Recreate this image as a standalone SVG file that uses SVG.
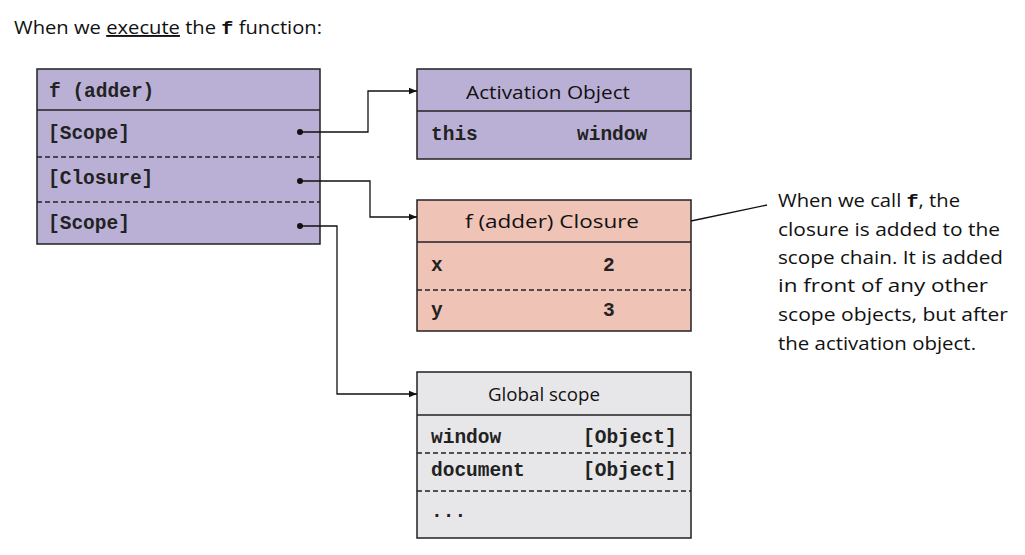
<svg xmlns="http://www.w3.org/2000/svg" width="1025" height="555" viewBox="0 0 1025 555">
<defs>
<marker id="arr" viewBox="0 0 10 10" refX="10" refY="5" markerWidth="12" markerHeight="8" markerUnits="userSpaceOnUse" orient="auto">
<path d="M0,1 L10,5 L0,9 z" fill="#111"/>
</marker>
<style>
.box{stroke:#222;stroke-width:1.5}
.purple{fill:#bab0d5}
.salmon{fill:#efc3b6}
.gray{fill:#e7e7e9}
.sep{stroke:#222;stroke-width:1.5;fill:none}
.dash{stroke:#222;stroke-width:1.3;stroke-dasharray:5,3;fill:none}
.mono{font-family:"Liberation Mono","Courier New",monospace;font-weight:bold;font-size:19.5px;fill:#222}
.hand{font-family:"Open Sans","DejaVu Sans",sans-serif;font-size:19px;fill:#111}
.conn{stroke:#111;stroke-width:1.3;fill:none}
</style>
</defs>
<rect width="1025" height="555" fill="#fff"/>

<text class="hand" x="14" y="34" textLength="308" lengthAdjust="spacingAndGlyphs">When we <tspan text-decoration="underline">execute</tspan> the <tspan font-family="Liberation Mono, monospace" font-weight="bold">f</tspan> function:</text>

<g id="node-f">
<rect class="box purple" x="37" y="69" width="283" height="175"/>
<line class="sep" x1="37" y1="110" x2="320" y2="110"/>
<line class="dash" x1="37" y1="157" x2="320" y2="157"/>
<line class="dash" x1="37" y1="202" x2="320" y2="202"/>
<text class="mono" x="49" y="97">f (adder)</text>
<text class="mono" x="48" y="139">[Scope]</text>
<text class="mono" x="48" y="184">[Closure]</text>
<text class="mono" x="48" y="229">[Scope]</text>
<circle cx="300" cy="132" r="3" fill="#111"/>
<circle cx="300" cy="181" r="3" fill="#111"/>
<circle cx="300" cy="226" r="3" fill="#111"/>
</g>

<g id="node-activation">
<rect class="box purple" x="417" y="69" width="274" height="90"/>
<line class="sep" x1="417" y1="111" x2="691" y2="111"/>
<text class="hand" x="548" y="99" text-anchor="middle" textLength="164" lengthAdjust="spacingAndGlyphs">Activation Object</text>
<text class="mono" x="431" y="140">this</text>
<text class="mono" x="577" y="140">window</text>
</g>

<g id="node-closure">
<rect class="box salmon" x="417" y="200" width="274" height="131"/>
<line class="sep" x1="417" y1="242" x2="691" y2="242"/>
<line class="dash" x1="417" y1="290" x2="691" y2="290"/>
<text class="hand" x="552" y="228" text-anchor="middle" textLength="174" lengthAdjust="spacingAndGlyphs">f (adder) Closure</text>
<text class="mono" x="431" y="271">x</text>
<text class="mono" x="603" y="271">2</text>
<text class="mono" x="431" y="316">y</text>
<text class="mono" x="603" y="316">3</text>
</g>

<g id="node-global">
<rect class="box gray" x="417" y="372" width="274" height="166"/>
<line class="sep" x1="417" y1="415" x2="691" y2="415"/>
<line class="dash" x1="417" y1="453" x2="691" y2="453"/>
<line class="dash" x1="417" y1="491" x2="691" y2="491"/>
<text class="hand" x="544" y="401" text-anchor="middle" textLength="112" lengthAdjust="spacingAndGlyphs">Global scope</text>
<text class="mono" x="431" y="443">window</text>
<text class="mono" x="583" y="443">[Object]</text>
<text class="mono" x="431" y="476">document</text>
<text class="mono" x="583" y="476">[Object]</text>
<text class="mono" x="431" y="517">...</text>
</g>

<g id="connectors">
<path class="conn" d="M300,132 H368 V91 H417" marker-end="url(#arr)"/>
<path class="conn" d="M300,181 H370 V217 H417" marker-end="url(#arr)"/>
<path class="conn" d="M300,226 H337 V394 H417" marker-end="url(#arr)"/>
<path class="conn" d="M691,221 L767,205"/>
</g>

<g id="annotation">
<text class="hand" x="778" y="207" textLength="182" lengthAdjust="spacingAndGlyphs">When we call <tspan font-family="Liberation Mono, monospace" font-weight="bold">f</tspan>, the</text>
<text class="hand" x="778" y="236" textLength="222" lengthAdjust="spacingAndGlyphs">closure is added to the</text>
<text class="hand" x="778" y="264" textLength="225" lengthAdjust="spacingAndGlyphs">scope chain. It is added</text>
<text class="hand" x="778" y="292" textLength="210" lengthAdjust="spacingAndGlyphs">in front of any other</text>
<text class="hand" x="778" y="321" textLength="230" lengthAdjust="spacingAndGlyphs">scope objects, but after</text>
<text class="hand" x="778" y="350" textLength="198" lengthAdjust="spacingAndGlyphs">the activation object.</text>
</g>
</svg>
